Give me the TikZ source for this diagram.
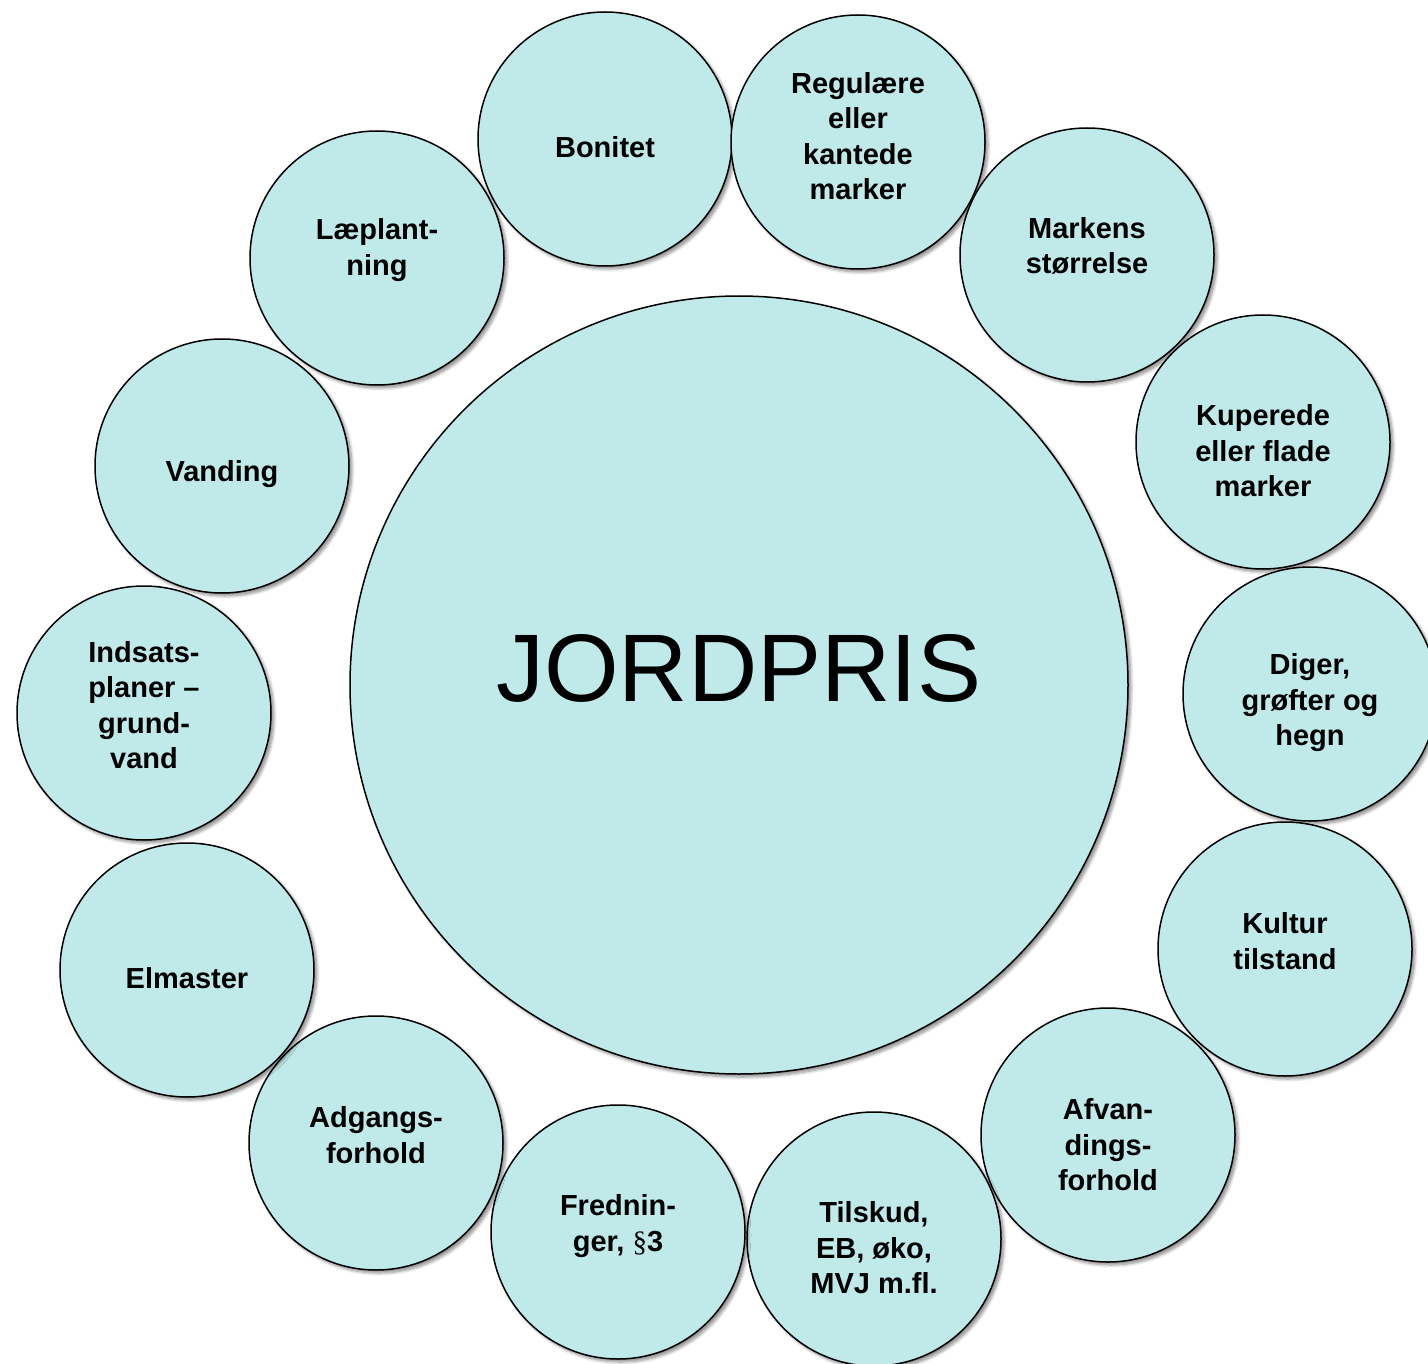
\documentclass[tikz,border=0pt]{standalone}
\usepackage{fontspec}
\setmainfont{Liberation Sans}
\newfontfamily\serifsym{Liberation Serif}
\usetikzlibrary{shadows.blur}
\definecolor{bubble}{RGB}{192,234,234}
\tikzset{
  bubble/.style={circle, draw=black, line width=1.5pt, fill=bubble, inner sep=0pt,
    minimum size=254pt,
    blur shadow={shadow xshift=3pt, shadow yshift=-3pt, shadow blur steps=6, shadow blur radius=3pt, shadow opacity=45}},
  hub/.style={bubble, minimum size=778pt},
  lbl/.style={align=center, font=\bfseries\fontsize{29}{35.5}\selectfont, inner sep=0pt},
}
\begin{document}
\begin{tikzpicture}[x=1pt,y=-1pt]
\useasboundingbox (0,0) rectangle (1428,1364);
\node[hub] (hub) at (739,685) {};
\node[font=\fontsize{96}{110}\selectfont, inner sep=0pt] (hubt) at (739,668) {JORDPRIS};

\node[bubble] (c1) at (605,139) {};
\node[lbl] (t1) at (605,147) {Bonitet};
\node[bubble] (c2) at (858,142) {};
\node[lbl] (t2) at (858,136) {Regulære\\eller\\kantede\\marker};
\node[bubble] (c3) at (1087,255) {};
\node[lbl] (t3) at (1087,246) {Markens\\størrelse};
\node[bubble] (c4) at (1263,442) {};
\node[lbl] (t4) at (1263,451) {Kuperede\\eller flade\\marker};
\node[bubble] (c5) at (1310,694) {};
\node[lbl] (t5) at (1310,703) {Diger,\\grøfter og\\hegn};
\node[bubble] (c6) at (1285,949) {};
\node[lbl] (t6) at (1285,941) {Kultur\\tilstand};
\node[bubble] (c7) at (1108,1135) {};
\node[lbl] (t7) at (1108,1145) {Afvan-\\dings-\\forhold};
\node[bubble] (c8) at (874,1239) {};
\node[lbl] (t8) at (874,1248) {Tilskud,\\EB, øko,\\MVJ m.fl.};
\node[bubble] (c9) at (618,1232) {};
\node[lbl] (t9) at (618,1226) {Frednin-\\ger, {\serifsym\mdseries §}3};
\node[bubble] (c10) at (376,1143) {};
\node[lbl] (t10) at (376,1135) {Adgangs-\\forhold};
\node[bubble] (c11) at (187,970) {};
\node[lbl] (t11) at (187,978) {Elmaster};
\node[bubble] (c12) at (144,713) {};
\node[lbl] (t12) at (144,705) {Indsats-\\planer –\\grund-\\vand};
\node[bubble] (c13) at (222,466) {};
\node[lbl] (t13) at (222,474) {Vanding};
\node[bubble] (c14) at (377,258) {};
\node[lbl] (t14) at (377,250) {Læplant-\\ning};
\end{tikzpicture}
\end{document}
